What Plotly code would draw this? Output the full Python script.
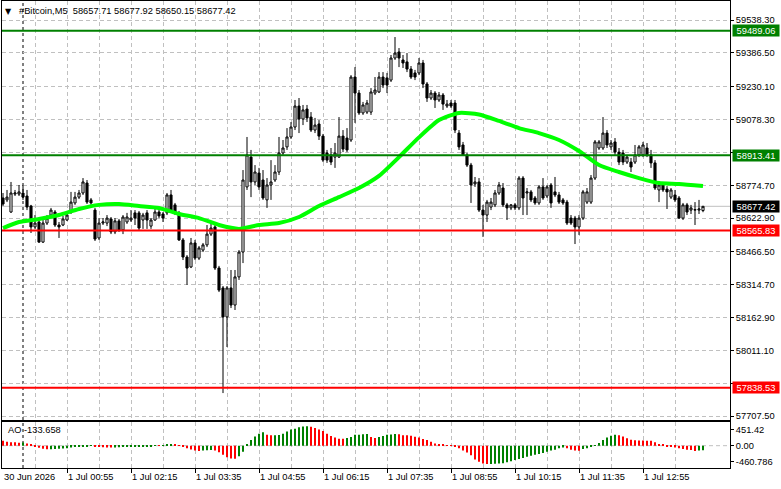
import pandas as pd
import plotly.graph_objects as go

# ---------------- data (5-minute bars, 30 Jun 23:35 .. 1 Jul 14:10) ----------------
times = pd.date_range("2026-06-30 23:35", periods=176, freq="5min")

open_ = [
    58716, 58707, 58651, 58734, 58734, 58739, 58725, 58679, 58582, 58605,
    58512, 58600, 58637, 58651, 58591, 58591, 58614, 58651, 58693, 58720,
    58739, 58785, 58707, 58660, 58531, 58600, 58600, 58619, 58559, 58610,
    58568, 58605, 58614, 58647, 58647, 58614, 58647, 58586, 58614, 58651,
    58642, 58647, 58730, 58684, 58647, 58522, 58443, 58397, 58508, 58438,
    58475, 58499, 58549, 58582, 58392, 58300, 58166, 58300, 58221, 58351,
    58466, 58767, 58905, 58790, 58831, 58799, 58707, 58776, 58799, 58836,
    58924, 58952, 58998, 59044, 59141, 59081, 59127, 59090, 59030, 59058,
    59002, 58924, 58915, 58905, 58905, 59002, 58993, 58984, 59275, 59201,
    59109, 59113, 59113, 59201, 59206, 59275, 59271, 59261, 59363, 59391,
    59354, 59345, 59312, 59294, 59294, 59340, 59243, 59178, 59201, 59169,
    59192, 59141, 59155, 59155, 59016, 58961, 58915, 58868, 58781, 58790,
    58660, 58637, 58674, 58684, 58739, 58762, 58684, 58670, 58684, 58670,
    58808, 58739, 58744, 58716, 58693, 58767, 58725, 58776, 58744, 58730,
    58707, 58697, 58623, 58623, 58582, 58623, 58697, 58697, 58808, 58947,
    58947, 59016, 58952, 58975, 58928, 58924, 58882, 58882, 58882, 58915,
    58915, 58947, 58915, 58878, 58753, 58776, 58757, 58720, 58730, 58716,
    58623, 58684, 58660, 58660, 58660, 58657.71,
]
high = [
    58739, 58753, 58790, 58753, 58776, 58776, 58753, 58684, 58637, 58623,
    58623, 58637, 58670, 58660, 58605, 58633, 58651, 58744, 58744, 58753,
    58808, 58799, 58716, 58670, 58623, 58623, 58637, 58628, 58623, 58619,
    58637, 58647, 58660, 58660, 58656, 58647, 58660, 58623, 58670, 58665,
    58651, 58739, 58753, 58693, 58656, 58531, 58452, 58531, 58522, 58494,
    58508, 58591, 58605, 58591, 58402, 58309, 58309, 58383, 58383, 58475,
    58845, 58998, 58938, 58868, 58855, 58845, 58808, 58891, 58868, 58998,
    58984, 59039, 59067, 59169, 59178, 59146, 59146, 59113, 59086, 59076,
    59012, 58938, 58947, 58970, 59090, 59030, 59039, 59284, 59321, 59215,
    59160, 59169, 59224, 59275, 59298, 59298, 59294, 59377, 59460, 59409,
    59377, 59386, 59326, 59308, 59363, 59354, 59252, 59215, 59210, 59206,
    59201, 59169, 59169, 59169, 59030, 58975, 58924, 58878, 58813, 58808,
    58684, 58707, 58716, 58753, 58790, 58785, 58693, 58688, 58693, 58817,
    58817, 58762, 58753, 58725, 58776, 58808, 58776, 58785, 58813, 58744,
    58716, 58707, 58637, 58633, 58637, 58753, 58762, 58822, 58984, 58984,
    59090, 59030, 58984, 58993, 58947, 58938, 58915, 58901, 58961, 58961,
    58975, 58970, 58938, 58891, 58790, 58790, 58771, 58762, 58753, 58725,
    58693, 58693, 58684, 58697, 58707, 58677.92,
]
low = [
    58679, 58697, 58647, 58725, 58725, 58707, 58660, 58554, 58573, 58508,
    58508, 58591, 58633, 58582, 58531, 58586, 58610, 58642, 58684, 58711,
    58730, 58688, 58684, 58517, 58522, 58591, 58586, 58549, 58549, 58559,
    58549, 58596, 58605, 58591, 58568, 58573, 58573, 58573, 58610, 58623,
    58605, 58637, 58651, 58637, 58517, 58429, 58314, 58392, 58429, 58429,
    58466, 58489, 58540, 58383, 58281, 57814, 58027, 58207, 58198, 58337,
    58415, 58753, 58720, 58776, 58753, 58707, 58670, 58707, 58790, 58822,
    58915, 58938, 58989, 59030, 59016, 59053, 59067, 59021, 59016, 58984,
    58882, 58878, 58868, 58855, 58901, 58928, 58928, 58975, 59063, 59100,
    59100, 59104, 59100, 59192, 59201, 59224, 59201, 59252, 59354, 59321,
    59317, 59298, 59266, 59261, 59284, 59224, 59160, 59169, 59132, 59160,
    59123, 59132, 59132, 59016, 58938, 58915, 58859, 58693, 58767, 58651,
    58536, 58605, 58660, 58674, 58730, 58674, 58614, 58660, 58660, 58660,
    58637, 58637, 58697, 58684, 58684, 58707, 58716, 58670, 58720, 58688,
    58684, 58591, 58591, 58503, 58545, 58614, 58688, 58688, 58799, 58938,
    58938, 58947, 58938, 58915, 58868, 58868, 58873, 58836, 58873, 58905,
    58905, 58905, 58855, 58753, 58697, 58744, 58665, 58711, 58697, 58619,
    58614, 58637, 58642, 58591, 58642, 58650.15,
]
close = [
    58688, 58720, 58739, 58739, 58744, 58720, 58674, 58582, 58600, 58512,
    58600, 58623, 58660, 58591, 58582, 58619, 58637, 58697, 58720, 58739,
    58790, 58697, 58693, 58526, 58600, 58605, 58623, 58559, 58610, 58568,
    58628, 58628, 58623, 58623, 58577, 58637, 58614, 58614, 58651, 58633,
    58623, 58730, 58660, 58647, 58522, 58443, 58392, 58508, 58438, 58485,
    58499, 58549, 58577, 58392, 58290, 58166, 58300, 58221, 58351, 58466,
    58799, 58915, 58790, 58836, 58767, 58716, 58776, 58790, 58836, 58924,
    58947, 58998, 59044, 59141, 59081, 59123, 59086, 59030, 59053, 59002,
    58891, 58891, 58882, 58924, 59002, 58942, 58938, 59275, 59201, 59109,
    59146, 59155, 59206, 59215, 59275, 59238, 59238, 59363, 59386, 59363,
    59340, 59312, 59275, 59275, 59340, 59243, 59178, 59201, 59169, 59192,
    59150, 59150, 59141, 59030, 58952, 58915, 58868, 58776, 58790, 58660,
    58637, 58697, 58697, 58739, 58776, 58684, 58670, 58684, 58670, 58808,
    58716, 58744, 58707, 58693, 58767, 58716, 58767, 58693, 58730, 58697,
    58693, 58600, 58600, 58582, 58623, 58744, 58744, 58808, 58975, 58975,
    59016, 58961, 58970, 58928, 58882, 58882, 58905, 58859, 58915, 58952,
    58961, 58915, 58878, 58762, 58776, 58753, 58744, 58753, 58707, 58623,
    58684, 58651, 58670, 58662, 58665, 58677.42,
]

# moving average read at sample bars (bar number from the first bar)
ma_bar = [0, 4, 9, 14, 19, 24, 29, 34, 39, 44, 49, 54, 59, 64, 69, 74, 79, 84,
          89, 94, 99, 104, 109, 114, 119, 124, 129, 134, 139, 144, 149, 154,
          159, 164, 169, 175]
ma_val = [58577, 58605, 58619, 58637, 58665, 58684, 58688, 58679, 58670, 58642,
          58623, 58591, 58573, 58591, 58600, 58628, 58679, 58720, 58762, 58818,
          58905, 58996, 59076, 59109, 59102, 59072, 59039, 59016, 58984, 58933,
          58868, 58836, 58808, 58785, 58781, 58771]

# Awesome Oscillator per bar
ao = [
    140, 110, 100, 95, 85,
    90, 65, 40, -10, -60, -90, -105,
    -100, -95, -90, -80, -70, -55, -40, -30, -20, -10, 5,
    -15, -30, -45, -50, -55,
    -50, -45, -40, -35, -30, -25, -20, -18, -15, -10, -5,
    -8,
    15, 30, 45,
    35, 15, -20, -70, -110, -140, -150,
    -140, -130, -120,
    -135, -190, -260, -330, -365, -370, -300, -170, 20,
    160, 260, 340, 385,
    315, 295,
    300, 305, 340, 405, 460, 480, 525, 545, 555,
    540, 505, 460, 420, 340, 275, 230, 200, 195,
    220, 250, 310, 315, 325, 330,
    250, 220,
    250, 275, 310, 320, 330,
    325, 300, 295, 285, 255, 230, 190, 160, 115, 65, 40, 20, 10, -5,
    -30, -75, -140, -195, -275, -395, -460, -505, -525,
    -520, -515, -510, -500, -475, -445, -410, -380, -350, -315, -285, -255,
    -235, -210, -170, -140, -115, -75, -50,
    -75, -115, -140, -145,
    -95, -75, -40, -5, 75, 160, 235, 285, 315,
    300, 265, 210, 170, 155, 150, 148, 140, 138, 95, 50, 20, -20, -30, -50,
    -75, -95, -115, -125, -150,
    -140, -133.658,
]

# horizontal levels
green_levels = [59489.06, 58913.41]
red_levels = [58565.83, 57838.53]
bid_price = 58677.42

# price scale labels
price_ticks = [59538.30, 59386.50, 59230.10, 59078.30, 58926.10, 58774.70,
               58622.90, 58466.50, 58314.70, 58162.90, 58011.10, 57859.30, 57707.50]
price_text = ["59538.30", "59386.50", "59230.10", "59078.30", "", "58774.70",
              "58622.90", "58466.50", "58314.70", "58162.90", "58011.10", "", "57707.50"]

time_labels = ["30 Jun 2026", "1 Jul 00:55", "1 Jul 02:15", "1 Jul 03:35", "1 Jul 04:55",
               "1 Jul 06:15", "1 Jul 07:35", "1 Jul 08:55", "1 Jul 10:15", "1 Jul 11:35",
               "1 Jul 12:55"]
time_label_at = pd.to_datetime(["2026-06-30 23:35", "2026-07-01 00:55", "2026-07-01 02:15",
                                "2026-07-01 03:35", "2026-07-01 04:55", "2026-07-01 06:15",
                                "2026-07-01 07:35", "2026-07-01 08:55", "2026-07-01 10:15",
                                "2026-07-01 11:35", "2026-07-01 12:55"])
grid_minor_at = pd.date_range("2026-07-01 00:15", "2026-07-01 14:15", freq="80min")

# ---------------- figure ----------------
BAR = pd.Timedelta(minutes=5)
x_range = [times[0] - 0.25 * BAR, times[0] + 181.75 * BAR]
FONT = "Liberation Sans, Arial, sans-serif"
FS = 9.3
GRID = "#C0C0C0"
DASH = "4px,3px"

fig = go.Figure()
fig.add_trace(go.Candlestick(
    x=times, open=open_, high=high, low=low, close=close,
    increasing=dict(line=dict(color="black", width=1), fillcolor="white"),
    decreasing=dict(line=dict(color="black", width=1), fillcolor="black"),
    whiskerwidth=0, showlegend=False, hoverinfo="skip", xaxis="x", yaxis="y"))
fig.add_trace(go.Scatter(
    x=[times[i] for i in ma_bar], y=ma_val, mode="lines",
    line=dict(color="#00FF00", width=4, shape="spline", smoothing=0.6),
    showlegend=False, hoverinfo="skip", xaxis="x", yaxis="y"))

ao_colors = ["#FF0000"] + ["#008000" if ao[i] > ao[i - 1] else "#FF0000" for i in range(1, len(ao))]
fig.add_trace(go.Bar(
    x=times, y=ao, marker=dict(color=ao_colors, line=dict(width=0)),
    width=70000, showlegend=False, hoverinfo="skip", xaxis="x2", yaxis="y2"))

main_dom = [(468 - 420) / 467, 1]
ao_dom = [0, (468 - 422) / 467]

common_x = dict(range=x_range, showline=True, linecolor="black", linewidth=1, mirror=True,
                zeroline=False, showgrid=True, gridcolor=GRID, griddash=DASH, gridwidth=1,
                tickmode="array", tickvals=list(time_label_at[1:]),
                minor=dict(tickmode="array", tickvals=list(grid_minor_at), showgrid=True,
                           gridcolor=GRID, griddash=DASH, gridwidth=1, ticks=""))

fig.update_layout(
    width=781, height=489,
    margin=dict(l=2, r=51, t=1, b=21),
    paper_bgcolor="white", plot_bgcolor="white",
    boxgap=0.25,
    showlegend=False,
    xaxis=dict(domain=[0, 1], anchor="y", showticklabels=False, ticks="",
               rangeslider=dict(visible=False), **common_x),
    xaxis2=dict(domain=[0, 1], anchor="y2", showticklabels=False, ticks="outside",
                ticklen=4, tickcolor="black", tickwidth=1, **common_x),
    yaxis=dict(domain=main_dom, anchor="x", side="right", range=[57689.5, 59626.6],
               tickmode="array", tickvals=price_ticks, ticktext=price_text,
               tickfont=dict(family=FONT, size=FS, color="black"),
               ticks="outside", ticklen=3, tickcolor="black",
               showgrid=True, gridcolor=GRID, griddash=DASH, gridwidth=1,
               showline=True, linecolor="black", linewidth=1, mirror=True, zeroline=False),
    yaxis2=dict(domain=ao_dom, anchor="x2", side="right", range=[-636, 675],
                tickmode="array", tickvals=[451.42, 0, -460.786],
                ticktext=["451.42", "0.00", "-460.786"],
                tickfont=dict(family=FONT, size=FS, color="black"),
                ticks="outside", ticklen=3, tickcolor="black", showgrid=False,
                showline=True, linecolor="black", linewidth=1, mirror=True, zeroline=False),
)

shapes = []
# period separator
shapes.append(dict(type="line", xref="x", yref="paper", x0=times[5], x1=times[5], y0=0, y1=1,
                   line=dict(color="black", width=1, dash="3px,3px"), layer="below"))
# bid line
shapes.append(dict(type="line", xref="paper", yref="y", x0=0, x1=1, y0=bid_price, y1=bid_price,
                   line=dict(color="#C0C0C0", width=1), layer="below"))
# AO zero line
shapes.append(dict(type="line", xref="paper", yref="y2", x0=0, x1=1, y0=0, y1=0,
                   line=dict(color=GRID, width=1, dash=DASH), layer="below"))
for lv in green_levels:
    shapes.append(dict(type="line", xref="paper", yref="y", x0=0, x1=1, y0=lv, y1=lv,
                       line=dict(color="#008000", width=2), layer="above"))
for lv in red_levels:
    shapes.append(dict(type="line", xref="paper", yref="y", x0=0, x1=1, y0=lv, y1=lv,
                       line=dict(color="#FF0000", width=2), layer="above"))
fig.update_layout(shapes=shapes)

ann = []
px_x = lambda px: (px - 2) / 728
px_y = lambda py: (468 - py) / 467
ann.append(dict(xref="paper", yref="paper", x=px_x(8), y=px_y(11), text="▼", showarrow=False,
                xanchor="center", yanchor="middle",
                font=dict(family="DejaVu Sans", size=8, color="black")))
ann.append(dict(xref="paper", yref="paper", x=px_x(17), y=px_y(11),
                text="#Bitcoin,M5\u00a0\u00a058657.71 58677.92 58650.15 58677.42",
                showarrow=False, xanchor="left", yanchor="middle",
                font=dict(family=FONT, size=FS, color="black")))
ann.append(dict(xref="paper", yref="paper", x=px_x(6), y=px_y(430), text="AO -133.658",
                showarrow=False, xanchor="left", yanchor="middle",
                font=dict(family=FONT, size=FS, color="black")))
for t, lbl in zip(time_label_at, time_labels):
    ann.append(dict(xref="x2", yref="paper", x=t, y=0, text=lbl, showarrow=False,
                    xanchor="left", yanchor="top", yshift=-2, xshift=-1,
                    font=dict(family=FONT, size=FS, color="black")))
boxes = [(green_levels[0], "#008000"), (green_levels[1], "#008000"),
         (bid_price, "#000000"), (red_levels[0], "#FF0000"), (red_levels[1], "#FF0000")]
for lv, col in boxes:
    ann.append(dict(xref="paper", yref="y", x=px_x(732), y=lv, text=f"{lv:.2f}",
                    showarrow=False, xanchor="left", yanchor="middle",
                    bgcolor=col, borderpad=0, width=46, height=11, align="center",
                    font=dict(family=FONT, size=FS, color="white")))
fig.update_layout(annotations=ann)

fig.write_html("out.html")
